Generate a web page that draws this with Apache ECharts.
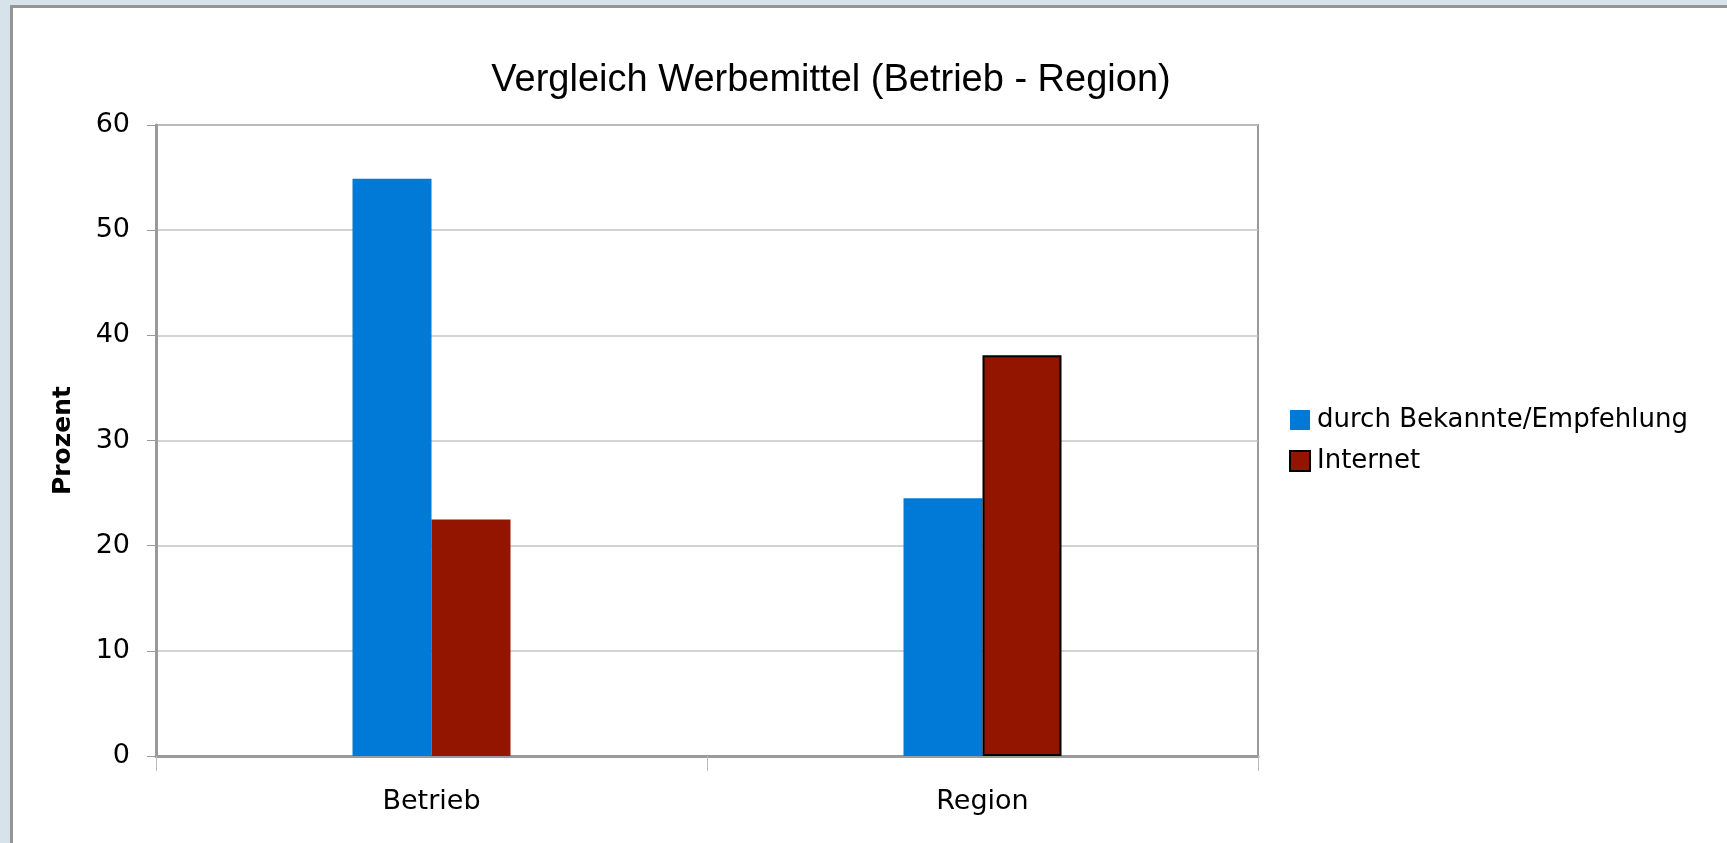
<!DOCTYPE html>
<html>
<head>
<meta charset="utf-8">
<script src="https://cdn.jsdelivr.net/npm/echarts@6/dist/echarts.min.js"></script>
<style>
  html, body { margin: 0; padding: 0; background: #d7e3ea; }
  #frame {
    position: absolute; left: 10px; top: 5px; width: 1717px; height: 838px;
    box-sizing: border-box; background: #fff;
    border-top: 3px solid #959595; border-left: 3px solid #959595;
  }
  #myChart { position: absolute; left: 0; top: 0; width: 1727px; height: 843px; }
</style>
</head>
<body>
<div id="frame"></div>
<div id="myChart"></div>
<script>
// Daten
const categories = ["Betrieb", "Region"];
const bekannte = [54.9, 24.5];
const internet = [22.5, 38.1];
const yTicks = [0, 10, 20, 30, 40, 50, 60];

const blau = "#007ad6";
const rot = "#931500";
const font = "DejaVu Sans";

let myChart = echarts.init(document.getElementById("myChart"));

let option = {
  backgroundColor: "transparent",
  animation: false,
  title: {
    text: "Vergleich Werbemittel (Betrieb - Region)",
    left: 826,
    textAlign: "center",
    top: 57,
    textStyle: { fontFamily: "Liberation Sans", fontSize: 38, fontWeight: "normal", color: "#000" },
  },
  legend: {
    orient: "vertical",
    left: 1284,
    top: 402,
    itemWidth: 20,
    itemHeight: 20,
    itemGap: 15,
    icon: "rect",
    textStyle: { fontFamily: font, fontSize: 26, color: "#000", padding: [0, 0, 0, 2] },
    data: [
      { name: "durch Bekannte/Empfehlung" },
      { name: "Internet", itemStyle: { borderColor: "#000", borderWidth: 2 } },
    ],
  },
  grid: {
    left: 156,
    right: 469,
    top: 125,
    bottom: 87,
    show: true,
    borderColor: "#9a9a9a",
    borderWidth: 2,
  },
  xAxis: {
    type: "category",
    data: categories,
    axisLine: { lineStyle: { color: "#9a9a9a", width: 3 } },
    axisTick: { show: true, length: 15, lineStyle: { color: "#bbbbbb", width: 1 } },
    axisLabel: { fontFamily: font, fontSize: 27, color: "#000", margin: 32 },
  },
  yAxis: {
    type: "value",
    min: yTicks[0],
    max: yTicks[yTicks.length - 1],
    interval: 10,
    name: "Prozent",
    nameLocation: "middle",
    nameGap: 80,
    nameTextStyle: { fontFamily: font, fontSize: 25, fontWeight: "bold", color: "#000" },
    axisLine: { show: true, lineStyle: { color: "#9a9a9a", width: 3 } },
    axisTick: { show: true, length: 9, lineStyle: { color: "#9a9a9a", width: 1 } },
    axisLabel: { fontFamily: font, fontSize: 27, color: "#000", margin: 26 },
    splitLine: { lineStyle: { color: "#c4c4c4", width: 1.5 } },
  },
  series: [
    {
      name: "durch Bekannte/Empfehlung",
      type: "bar",
      data: bekannte,
      barWidth: 79,
      barGap: "0%",
      itemStyle: { color: blau },
    },
    {
      name: "Internet",
      type: "bar",
      data: internet.map((v, i) =>
        i === 1 ? { value: v, itemStyle: { borderColor: "#000", borderWidth: 2 } } : v
      ),
      barWidth: 79,
      itemStyle: { color: rot },
    },
  ],
};

myChart.setOption(option);
</script>
</body>
</html>
